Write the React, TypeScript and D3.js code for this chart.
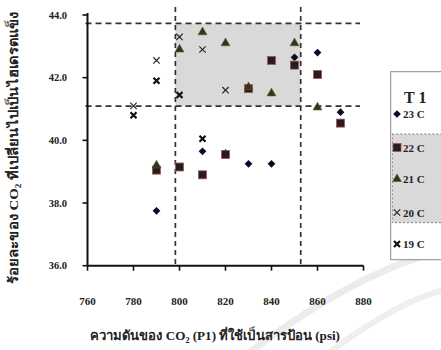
import React from "react";
import * as d3 from "d3";

// axis ticks
const xTicks = [760, 780, 800, 820, 840, 860, 880];
const yTicks = [36, 38, 40, 42, 44];

// dashed threshold lines (x = pressure, y = percent)
const xCuts = [798.2, 852.7];
const yCuts = [41.09, 43.73];

// series: [pressure psi, percent]
const s23: [number, number][] = [
  [790, 37.75], [810, 39.65], [820, 39.6], [830, 39.25], [840, 39.25],
  [850, 42.65], [860, 42.8], [870, 40.9],
];
const s22: [number, number][] = [
  [790, 39.05], [800, 39.15], [810, 38.9], [820, 39.55], [830, 41.65],
  [840, 42.55], [850, 42.4], [860, 42.1], [870, 40.55],
];
const s21: [number, number][] = [
  [790, 39.2], [800, 42.9], [810, 43.45], [820, 43.1], [830, 41.7],
  [840, 41.5], [850, 43.1], [860, 41.05],
];
const s20: [number, number][] = [
  [780, 41.1], [790, 42.55], [800, 43.3], [810, 42.9], [820, 41.6],
];
const s19: [number, number][] = [
  [780, 40.8], [790, 41.9], [800, 41.45], [810, 40.05],
];

const seriesLabels = ["23 C", "22 C", "21 C", "20 C", "19 C"];
const seriesData = [s23, s22, s21, s20, s19];

const W = 441;
const H = 350;
const serif = "'Liberation Serif', 'Times New Roman', serif";

function Marker({ kind, cx, cy }: { kind: number; cx: number; cy: number }) {
  if (kind === 0) {
    const d = d3.symbol().type(d3.symbolSquare).size(30)();
    return <path d={d ?? ""} transform={`translate(${cx},${cy}) rotate(45)`} fill="#0b0b26" />;
  }
  if (kind === 1) {
    return <rect x={cx - 4} y={cy - 4} width={8} height={8} fill="#231f20" stroke="#b05050" strokeWidth={0.8} />;
  }
  if (kind === 2) {
    const d = d3.symbol().type(d3.symbolTriangle).size(34)();
    return <path d={d ?? ""} transform={`translate(${cx},${cy})`} fill="#34341a" stroke="#5a5a2a" strokeWidth={0.6} />;
  }
  if (kind === 3) {
    const r = 3.2;
    return (
      <path
        d={`M${cx - r},${cy - r}L${cx + r},${cy + r}M${cx - r},${cy + r}L${cx + r},${cy - r}`}
        stroke="#222" strokeWidth={1.1} fill="none"
      />
    );
  }
  const r = 3;
  return (
    <path
      d={`M${cx - r},${cy - r}L${cx + r},${cy + r}M${cx - r},${cy + r}L${cx + r},${cy - r}`}
      stroke="#111" strokeWidth={2.2} fill="none"
    />
  );
}

export default function App() {
  const x = d3.scaleLinear().domain([760, 880]).range([87.5, 363.5]);
  const y = d3.scaleLinear().domain([36, 44]).range([265.7, 15]);
  const x0 = x(760);
  const y0 = y(36);

  const legendY = [114, 147.5, 179, 212.5, 244];

  return (
    <svg
      width={W}
      height={H}
      style={{ position: "absolute", left: 0, top: 0, background: "#fff" }}
      fontFamily={serif}
    >
      {/* watermark swooshes */}
      <path d="M250,352 Q360,270 445,250" stroke="#ececec" strokeWidth={7} fill="none" />
      <path d="M330,352 Q400,300 445,290" stroke="#efefef" strokeWidth={6} fill="none" />

      {/* shaded region */}
      <rect
        x={x(xCuts[0])}
        y={y(yCuts[1])}
        width={x(xCuts[1]) - x(xCuts[0])}
        height={y(yCuts[0]) - y(yCuts[1])}
        fill="#d9d9d9"
      />

      {/* dashed lines */}
      {yCuts.map((v) => (
        <line key={"h" + v} x1={x0 - 2} x2={360} y1={y(v)} y2={y(v)}
          stroke="#333" strokeWidth={1.7} strokeDasharray="6,4" />
      ))}
      {xCuts.map((v) => (
        <line key={"v" + v} x1={x(v)} x2={x(v)} y1={7} y2={y0}
          stroke="#333" strokeWidth={1.7} strokeDasharray="5,4" />
      ))}

      {/* axes */}
      <line x1={x0} x2={x0} y1={13} y2={y0} stroke="#111" strokeWidth={2} />
      <line x1={x0} x2={x(880)} y1={y0} y2={y0} stroke="#111" strokeWidth={2} />
      {yTicks.map((t) => (
        <g key={"yt" + t}>
          <line x1={x0 - 5} x2={x0} y1={y(t)} y2={y(t)} stroke="#111" strokeWidth={1.6} />
          <text x={67} y={y(t) + 3.5} textAnchor="end" fontSize={10.5} fontWeight="bold" fill="#222">
            {t.toFixed(1)}
          </text>
        </g>
      ))}
      {xTicks.map((t) => (
        <g key={"xt" + t}>
          <line x1={x(t)} x2={x(t)} y1={y0} y2={y0 + 5} stroke="#111" strokeWidth={1.6} />
          <text x={x(t)} y={305} textAnchor="middle" fontSize={11} fontWeight="bold" fill="#222">
            {t}
          </text>
        </g>
      ))}

      {/* points */}
      {seriesData.map((s, k) =>
        s.map(([px, py], i) => <Marker key={k + "-" + i} kind={k} cx={x(px)} cy={y(py)} />)
      )}

      {/* axis titles */}
      <text x={215} y={340} textAnchor="middle" fontSize={13} fontWeight="bold" fill="#222"
        textLength={250} lengthAdjust="spacingAndGlyphs">
        ความดันของ CO<tspan fontSize={8} dy={3}>2</tspan><tspan dy={-3}> (P1) ที่ใช้เป็นสารป้อน (psi)</tspan>
      </text>
      <text transform="translate(18,148) rotate(-90)" textAnchor="middle" fontSize={13} fontWeight="bold" fill="#222"
        textLength={272} lengthAdjust="spacingAndGlyphs">
        ร้อยละของ CO<tspan fontSize={8} dy={3}>2</tspan><tspan dy={-3}> ที่เปลี่ยนไปเป็นไฮเดรตแข็ง</tspan>
      </text>

      {/* legend */}
      <rect x={390.7} y={71.7} width={60} height={188} fill="#fff" stroke="#8a8a8a" strokeWidth={1} />
      <rect x={392.3} y={134} width={60} height={88.7} fill="#d9d9d9" stroke="#666" strokeWidth={0.8} strokeDasharray="2,2" />
      <text x={404} y={103} fontSize={16} fontWeight="bold" fill="#222">T 1</text>
      {seriesLabels.map((lab, k) => (
        <g key={"lg" + k}>
          <Marker kind={k} cx={397} cy={legendY[k]} />
          <text x={403} y={legendY[k] + 4} fontSize={11} fontWeight="bold" fill="#222">{lab}</text>
        </g>
      ))}
    </svg>
  );
}
